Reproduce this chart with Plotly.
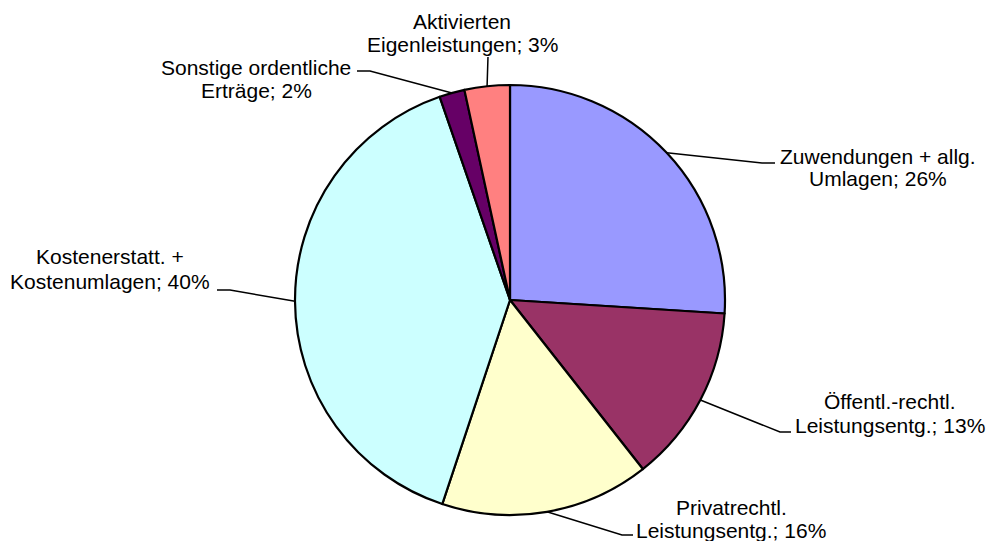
import math
import plotly.graph_objects as go

# Anteile (in %), im Uhrzeigersinn ab 12 Uhr
categories = [
    "Zuwendungen + allg. Umlagen",
    "Öffentl.-rechtl. Leistungsentg.",
    "Privatrechtl. Leistungsentg.",
    "Kostenerstatt. + Kostenumlagen",
    "Sonstige ordentliche Erträge",
    "Aktivierten Eigenleistungen",
]
label_line1 = ["Zuwendungen + allg.", "Öffentl.-rechtl.", "Privatrechtl.",
               "Kostenerstatt. +", "Sonstige ordentliche", "Aktivierten"]
label_line2 = ["Umlagen", "Leistungsentg.", "Leistungsentg.",
               "Kostenumlagen", "Erträge", "Eigenleistungen"]
values = [26.0, 13.4, 15.7, 39.6, 1.9, 3.4]
colors = ["#9999FF", "#993366", "#FFFFCC", "#CCFFFF", "#660066", "#FF8080"]

W, H = 990, 541
CX, CY, R = 510, 300, 215
FONT = dict(family="Liberation Sans, Arial, sans-serif", size=21, color="black")

# Beschriftungs-Layout in Pixeln: Textmitte x, Grundlinien, Knick, Ende der Führungslinie
label_pos = [
    dict(cx=878, b=(163, 186), elbow=(762, 163), end=(775, 163)),
    dict(cx=890, b=(408, 432), elbow=(780, 432), end=(791, 432)),
    dict(cx=731, b=(514, 537), elbow=(622, 535), end=(633, 535)),
    dict(cx=110, b=(263, 288), elbow=(230, 290), end=(217, 290)),
    dict(cx=256, b=(74, 97), elbow=(370, 71), end=(357, 71)),
    dict(cx=462, b=(28, 52), elbow=(488, 57), end=(488, 57)),
]


def px(x, y):
    return x / W, 1 - y / H


fig = go.Figure(go.Pie(
    labels=categories,
    values=values,
    sort=False,
    direction="clockwise",
    rotation=0,
    marker=dict(colors=colors, line=dict(color="black", width=2.2)),
    textinfo="none",
    hoverinfo="label+percent",
    domain=dict(x=[(CX - R) / W, (CX + R) / W], y=[1 - (CY + R) / H, 1 - (CY - R) / H]),
))

total = sum(values)
cum = 0
shapes, annotations = [], []
for i, v in enumerate(values):
    theta = 2 * math.pi * (cum + v / 2) / total
    cum += v
    ex, ey = CX + R * math.sin(theta), CY - R * math.cos(theta)
    pos = label_pos[i]
    pts = [px(ex, ey), px(*pos["elbow"]), px(*pos["end"])]
    path = "M {},{} L {},{} L {},{}".format(*[c for p in pts for c in p])
    shapes.append(dict(type="path", path=path, xref="paper", yref="paper",
                       line=dict(color="black", width=1.5)))
    pct = round(v / total * 100)
    lines = [label_line1[i], f"{label_line2[i]}; {pct}%"]
    for text, base in zip(lines, pos["b"]):
        x, y = px(pos["cx"], base - 7)
        annotations.append(dict(text=text, x=x, y=y, xref="paper", yref="paper",
                                xanchor="center", yanchor="middle",
                                showarrow=False, font=FONT))

fig.update_layout(
    width=W, height=H,
    margin=dict(l=0, r=0, t=0, b=0),
    showlegend=False,
    paper_bgcolor="white",
    plot_bgcolor="white",
    shapes=shapes,
    annotations=annotations,
)

# Standard-Rand des <body> entfernen, damit die Grafik bündig im Fenster sitzt
fig.write_html("out.html", config={"displayModeBar": False},
               post_script="document.body.style.margin='0';")
